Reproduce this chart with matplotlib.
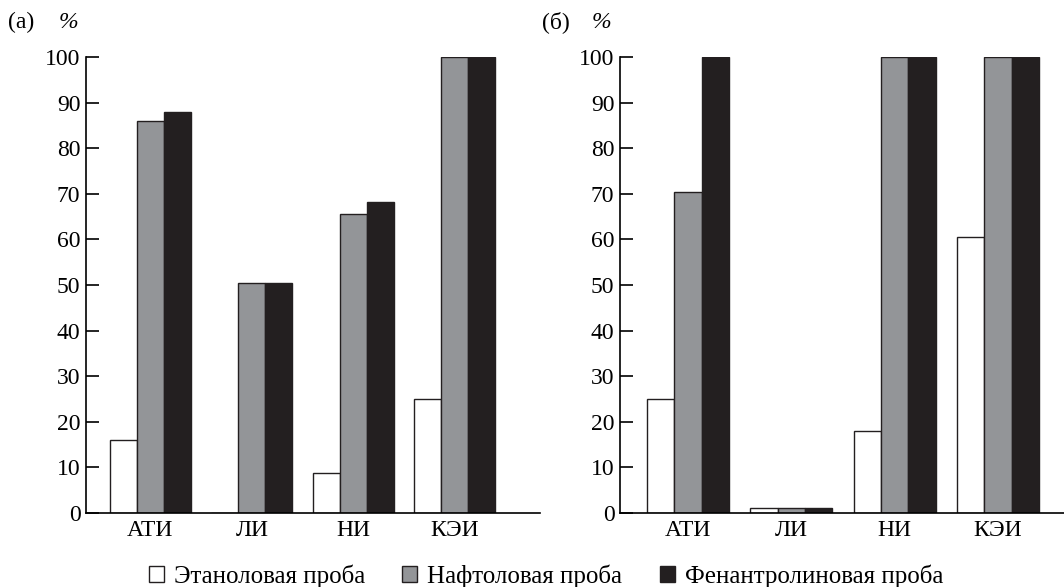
import numpy as np
import matplotlib
matplotlib.use("Agg")
import matplotlib.pyplot as plt
from matplotlib.patches import Patch

plt.rcParams['font.family'] = ['Liberation Serif', 'DejaVu Serif']

categories = ['АТИ', 'ЛИ', 'НИ', 'КЭИ']
series = ['Этаноловая проба', 'Нафтоловая проба', 'Фенантролиновая проба']

# (а)
left_ethanol = [16, 0, 8.7, 25]
left_naphthol = [86, 50.5, 65.5, 100]
left_phen = [88, 50.5, 68.3, 100]
# (б)
right_ethanol = [25, 1.2, 18, 60.5]
right_naphthol = [70.5, 1.2, 100, 100]
right_phen = [100, 1.2, 100, 100]

colors = ['white', '#939598', '#231f20']
yticks = list(range(0, 101, 10))
fs = 17

fig = plt.figure(figsize=(10.64, 5.87), dpi=100)
axL = fig.add_axes([86/1064, 1-513/587, (540-86)/1064, (513-57)/587])
axR = fig.add_axes([620/1064, 1-513/587, (1064-620)/1064, (513-57)/587])

w = 0.265
x = np.arange(len(categories))


def draw(ax, data, xlim):
    for i, (vals, c) in enumerate(zip(data, colors)):
        ax.bar(x + (i - 1) * w, vals, w, color=c, edgecolor='#231f20', linewidth=1.0)
    ax.set_xlim(*xlim)
    ax.set_ylim(0, 100)
    ax.set_yticks(yticks)
    ax.set_xticks(x)
    ax.set_xticklabels(categories)
    ax.spines['top'].set_visible(False)
    ax.spines['right'].set_visible(False)
    ax.spines['left'].set_linewidth(1.2)
    ax.spines['bottom'].set_linewidth(1.2)
    ax.tick_params(axis='y', direction='in', length=9, width=1.2, labelsize=fs, pad=4)
    ax.tick_params(axis='x', length=0, labelsize=fs, pad=5)


draw(axL, [left_ethanol, left_naphthol, left_phen], (-0.634, 3.84))
draw(axR, [right_ethanol, right_naphthol, right_phen], (-0.66, 3.64))

fig.text(8/1064, 1-22/587, '(a)', fontsize=fs, va='center')
fig.text(59/1064, 1-22/587, '%', fontsize=fs, va='center', style='italic')
fig.text(542/1064, 1-22/587, '(б)', fontsize=fs, va='center')
fig.text(592/1064, 1-22/587, '%', fontsize=fs, va='center', style='italic')

handles = [Patch(facecolor=c, edgecolor='#231f20', linewidth=1.0) for c in colors]
fig.legend(handles, series, loc='center', bbox_to_anchor=(546/1064, 1-576/587),
           ncol=3, frameon=False, fontsize=18, handlelength=0.6, handleheight=0.6,
           handletextpad=0.4, columnspacing=1.5)

fig.savefig('out.png', dpi=100)
